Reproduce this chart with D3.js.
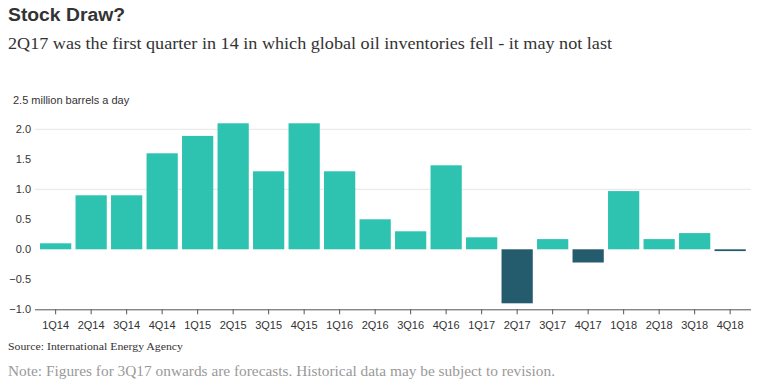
<!DOCTYPE html>
<html>
<head>
<meta charset="utf-8">
<script src="https://cdn.jsdelivr.net/npm/d3@7"></script>
<style>
  body { margin: 0; background: #fff; }
  svg { display: block; }
</style>
</head>
<body>
<div id="chart"></div>
<script>
// data
var quarters = ["1Q14","2Q14","3Q14","4Q14","1Q15","2Q15","3Q15","4Q15","1Q16","2Q16",
                "3Q16","4Q16","1Q17","2Q17","3Q17","4Q17","1Q18","2Q18","3Q18","4Q18"];
var stockDraw = [0.1, 0.9, 0.9, 1.6, 1.89, 2.1, 1.3, 2.1, 1.3, 0.5,
                 0.3, 1.4, 0.2, -0.9, 0.17, -0.22, 0.97, 0.17, 0.27, -0.03];
var yTicks = [-1.0, -0.5, 0.0, 0.5, 1.0, 1.5, 2.0];
var gridTicks = [1.0, 2.0];

var width = 768, height = 390;

var svg = d3.select("#chart")
  .append("svg")
    .attr("width", width)
    .attr("height", height);

// x scale
var x = d3.scaleBand()
  .domain(quarters)
  .range([37.9, 747.9])
  .paddingInner(0.12)
  .paddingOuter(0.06);

// y scale: 60px per unit, zero at 249.3
var y = d3.scaleLinear()
  .domain([-1, 2.5])
  .range([309.3, 99.3]);

// gridlines
svg.append("g")
  .selectAll("line")
  .data(gridTicks)
  .enter()
  .append("line")
    .attr("x1", 35)
    .attr("x2", 751)
    .attr("y1", function(d) { return y(d); })
    .attr("y2", function(d) { return y(d); })
    .style("stroke", "#e6e6e6")
    .style("stroke-width", 1);

// bars
svg.append("g")
  .selectAll("rect")
  .data(quarters)
  .enter()
  .append("rect")
    .attr("x", function(d) { return x(d); })
    .attr("width", x.bandwidth())
    .attr("y", function(d, i) { return y(Math.max(0, stockDraw[i])); })
    .attr("height", function(d, i) { return Math.abs(y(stockDraw[i]) - y(0)); })
    .style("fill", function(d, i) { return stockDraw[i] < 0 ? "#245b6d" : "#2ec3b1"; });

// y tick labels
svg.append("g")
  .selectAll("text")
  .data(yTicks)
  .enter()
  .append("text")
    .attr("x", 31)
    .attr("y", function(d) { return y(d); })
    .attr("dy", "0.35em")
    .attr("text-anchor", "end")
    .style("font-family", "Arial, 'Liberation Sans', sans-serif")
    .style("font-size", "11px")
    .style("fill", "#333")
    .text(function(d) { return d3.format(".1f")(d); });

// x axis
var xAxis = svg.append("g")
  .attr("transform", "translate(0," + y(-1) + ")")
  .call(d3.axisBottom(x).tickSize(5).tickSizeOuter(0));
xAxis.select(".domain")
  .attr("d", "M35,0.5H751")
  .style("stroke", "#555");
xAxis.selectAll(".tick line").style("stroke", "#555");
xAxis.selectAll("text")
  .attr("y", 12)
  .style("font-family", "Arial, 'Liberation Sans', sans-serif")
  .style("font-size", "11px")
  .style("fill", "#333");

// unit label
svg.append("text")
  .attr("x", 13)
  .attr("y", 104)
  .style("font-family", "Arial, 'Liberation Sans', sans-serif")
  .style("font-size", "11px")
  .style("fill", "#333")
  .text("2.5 million barrels a day");

// title
svg.append("text")
  .attr("x", 8)
  .attr("y", 21)
  .attr("textLength", 117)
  .attr("lengthAdjust", "spacingAndGlyphs")
  .style("font-family", "'Liberation Sans', Arial, sans-serif")
  .style("font-weight", "bold")
  .style("font-size", "18px")
  .style("fill", "#333")
  .text("Stock Draw?");

// subtitle
svg.append("text")
  .attr("x", 8)
  .attr("y", 49)
  .attr("textLength", 604)
  .attr("lengthAdjust", "spacingAndGlyphs")
  .style("font-family", "'Liberation Serif', Georgia, serif")
  .style("font-size", "17px")
  .style("fill", "#333")
  .text("2Q17 was the first quarter in 14 in which global oil inventories fell - it may not last");

// source
svg.append("text")
  .attr("x", 8)
  .attr("y", 350)
  .attr("textLength", 175)
  .attr("lengthAdjust", "spacingAndGlyphs")
  .style("font-family", "'Liberation Serif', Georgia, serif")
  .style("font-size", "11px")
  .style("fill", "#333")
  .text("Source: International Energy Agency");

// note
svg.append("text")
  .attr("x", 8)
  .attr("y", 376)
  .attr("textLength", 547)
  .attr("lengthAdjust", "spacingAndGlyphs")
  .style("font-family", "'Liberation Serif', Georgia, serif")
  .style("font-size", "14px")
  .style("fill", "#999")
  .text("Note: Figures for 3Q17 onwards are forecasts. Historical data may be subject to revision.");
</script>
</body>
</html>
